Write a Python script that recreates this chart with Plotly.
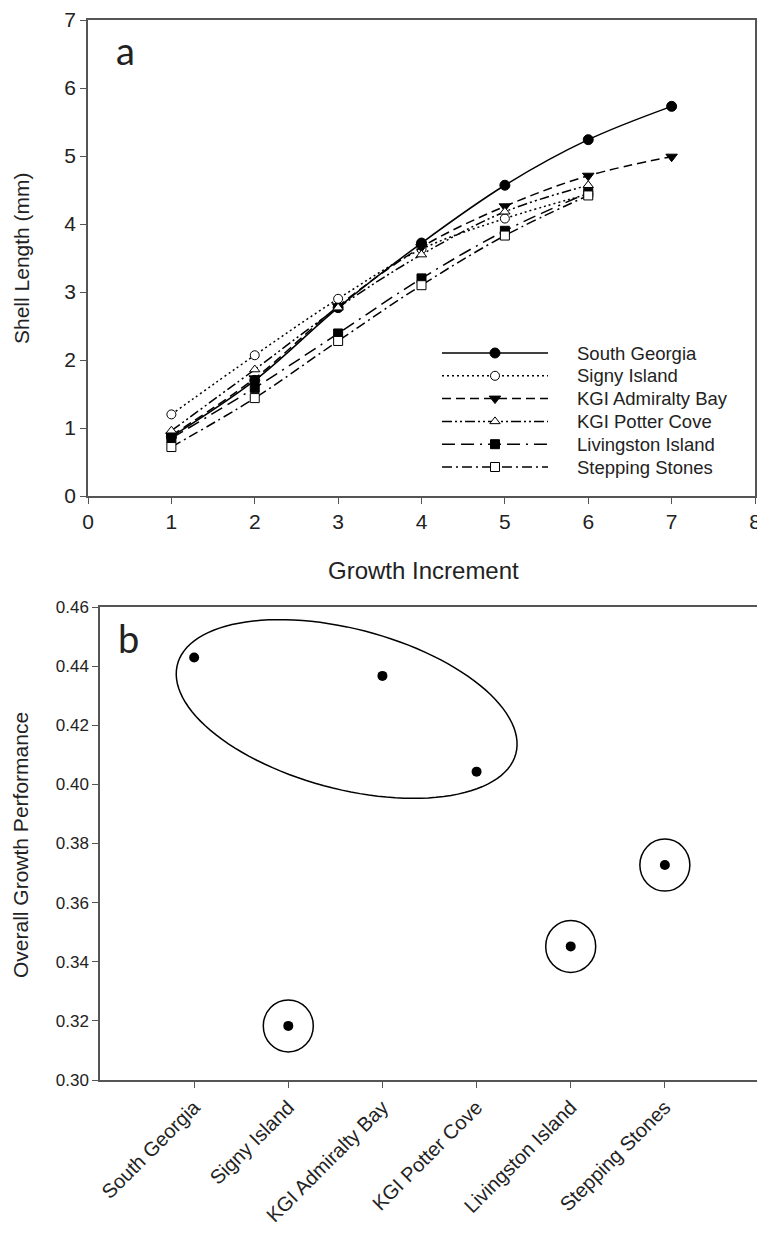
import numpy as np
import plotly.graph_objects as go

# ---------------- data ----------------
increments = [1, 2, 3, 4, 5, 6, 7]
series_names = ["South Georgia", "Signy Island", "KGI Admiralty Bay",
                "KGI Potter Cove", "Livingston Island", "Stepping Stones"]
south_georgia = [0.87, 1.70, 2.77, 3.72, 4.57, 5.24, 5.73]
signy_island = [1.20, 2.07, 2.90, 3.63, 4.08, 4.44]
kgi_admiralty_bay = [0.89, 1.73, 2.79, 3.66, 4.26, 4.71, 4.99]
kgi_potter_cove = [0.96, 1.86, 2.77, 3.55, 4.18, 4.57]
livingston_island = [0.85, 1.59, 2.39, 3.20, 3.90, 4.46]
stepping_stones = [0.72, 1.44, 2.28, 3.10, 3.83, 4.42]

sites = ["South Georgia", "Signy Island", "KGI Admiralty Bay",
         "KGI Potter Cove", "Livingston Island", "Stepping Stones"]
growth_performance = [0.4429, 0.3183, 0.4367, 0.4043, 0.3452, 0.3727]

x_ticks_a = [0, 1, 2, 3, 4, 5, 6, 7, 8]
y_ticks_a = [0, 1, 2, 3, 4, 5, 6, 7]
y_ticks_b = [0.30, 0.32, 0.34, 0.36, 0.38, 0.40, 0.42, 0.44, 0.46]

# ---------------- styles ----------------
# page body has an 8px default margin: size the figure to the visible area
PAD = 8
W, H = 765 - PAD, 1239 - PAD
FONT = "Liberation Sans, Arial, sans-serif"
TXT = "#222222"
AX = "#555555"

styles = [
    dict(dash="solid", symbol="circle", fill="black", size=10),
    dict(dash="2px,3px", symbol="circle", fill="white", size=9),
    dict(dash="9px,5px", symbol="triangle-down", fill="black", size=10),
    dict(dash="10px,3px,2px,3px,2px,3px", symbol="triangle-up", fill="white", size=9),
    dict(dash="13px,6px,13px,6px,2px,6px", symbol="square", fill="black", size=9),
    dict(dash="10px,4px,2px,4px", symbol="square", fill="white", size=9),
]
series_values = [south_georgia, signy_island, kgi_admiralty_bay,
                 kgi_potter_cove, livingston_island, stepping_stones]


def fx(p):
    return (p - PAD) / W


def fy(p):
    return 1 - (p - PAD) / H


fig = go.Figure()

# panel a traces
for name, vals, st in zip(series_names, series_values, styles):
    fig.add_trace(go.Scatter(
        x=increments[:len(vals)], y=vals, name=name, mode="lines+markers",
        line=dict(color="black", width=1.5, dash=st["dash"], shape="spline"),
        marker=dict(symbol=st["symbol"], size=st["size"], color=st["fill"],
                    line=dict(color="black", width=1)),
        xaxis="x", yaxis="y", showlegend=False))

# custom legend samples (overlay axis x3/y3)
for i, (name, st) in enumerate(zip(series_names, styles)):
    fig.add_trace(go.Scatter(
        x=[0, 1], y=[i, i], mode="lines",
        line=dict(color="black", width=1.5, dash=st["dash"]),
        xaxis="x3", yaxis="y3", showlegend=False, hoverinfo="skip"))
    fig.add_trace(go.Scatter(
        x=[0.5], y=[i], mode="markers",
        marker=dict(symbol=st["symbol"], size=st["size"], color=st["fill"],
                    line=dict(color="black", width=1)),
        xaxis="x3", yaxis="y3", showlegend=False, hoverinfo="skip"))
    fig.add_annotation(text=name, xref="paper", yref="y3", x=fx(575), y=i,
                       xanchor="left", yanchor="middle", showarrow=False,
                       font=dict(family=FONT, size=18.5, color=TXT))

# panel b points
xpos_b = list(range(1, len(sites) + 1))
fig.add_trace(go.Scatter(
    x=xpos_b, y=growth_performance, mode="markers",
    marker=dict(symbol="circle", size=10, color="black"),
    xaxis="x2", yaxis="y2", showlegend=False))

# circles around single points (pixel sized, anchored on data)
for xi, yi in zip(xpos_b, growth_performance):
    if yi < 0.39:
        fig.add_shape(type="circle", xref="x2", yref="y2",
                      xsizemode="pixel", ysizemode="pixel",
                      xanchor=xi, yanchor=yi, x0=-25, x1=25, y0=-26, y1=26,
                      line=dict(color="black", width=1.5))

# tilted ellipse around the three high-growth sites
a_px, b_px, ang = 175, 80, np.deg2rad(-14.8)
t = np.linspace(0, 2 * np.pi, 120)
ex = a_px * np.cos(t) * np.cos(ang) - b_px * np.sin(t) * np.sin(ang)
ey = a_px * np.cos(t) * np.sin(ang) + b_px * np.sin(t) * np.cos(ang)
path = "M " + " L ".join(f"{u:.2f},{v:.2f}" for u, v in zip(ex, ey)) + " Z"
fig.add_shape(type="path", path=path, xref="x2", yref="y2",
              xsizemode="pixel", ysizemode="pixel",
              xanchor=2.62, yanchor=0.4255,
              line=dict(color="black", width=1.5))

axis_common = dict(showline=True, linecolor=AX, linewidth=1.5, mirror=True,
                   ticks="outside", ticklen=6, tickcolor=AX, tickwidth=1,
                   showgrid=False, zeroline=False, automargin=False)

fig.update_layout(
    width=W, height=H, margin=dict(l=0, r=0, t=0, b=0),
    paper_bgcolor="white", plot_bgcolor="white",
    font=dict(family=FONT, color=TXT),
    xaxis=dict(domain=[fx(88), fx(755)], anchor="y", range=[0, 8],
               tickvals=x_ticks_a, tickfont=dict(size=21, color=TXT),
               ticklabeloverflow="allow", **axis_common),
    yaxis=dict(domain=[fy(496), fy(20)], anchor="x", range=[0, 7],
               tickvals=y_ticks_a, tickfont=dict(size=21, color=TXT),
               **axis_common),
    xaxis2=dict(domain=[fx(100), fx(759)], anchor="y2", range=[0, 7],
                tickvals=xpos_b, ticktext=sites, tickangle=-45,
                tickfont=dict(size=20, color=TXT), **axis_common),
    yaxis2=dict(domain=[fy(1080), fy(607)], anchor="x2", range=[0.30, 0.46],
                tickvals=y_ticks_b, tickformat=".2f",
                tickfont=dict(size=17, color=TXT), **axis_common),
    xaxis3=dict(domain=[fx(442), fx(548)], anchor="y3", range=[0, 1],
                visible=False, fixedrange=True),
    yaxis3=dict(domain=[fy(478.4), fy(341.6)], anchor="x3", range=[5.5, -0.5],
                visible=False, fixedrange=True),
)

# titles and panel letters
fig.add_annotation(text="Shell Length (mm)", xref="paper", yref="paper",
                   x=fx(22), y=fy(258), textangle=-90, showarrow=False,
                   xanchor="center", yanchor="middle",
                   font=dict(family=FONT, size=21, color=TXT))
fig.add_annotation(text="Growth Increment", xref="paper", yref="paper",
                   x=fx(423), y=fy(570), showarrow=False,
                   xanchor="center", yanchor="middle",
                   font=dict(family=FONT, size=24, color=TXT))
fig.add_annotation(text="Overall Growth Performance", xref="paper", yref="paper",
                   x=fx(20), y=fy(845), textangle=-90, showarrow=False,
                   xanchor="center", yanchor="middle",
                   font=dict(family=FONT, size=21, color=TXT))
fig.add_annotation(text="a", xref="paper", yref="paper", x=fx(125), y=fy(50),
                   showarrow=False, xanchor="center", yanchor="middle",
                   font=dict(family="Lato, sans-serif", size=38, color=TXT))
fig.add_annotation(text="b", xref="paper", yref="paper", x=fx(128), y=fy(638),
                   showarrow=False, xanchor="center", yanchor="middle",
                   font=dict(family="Lato, sans-serif", size=38, color=TXT))

fig.write_html("out.html")
